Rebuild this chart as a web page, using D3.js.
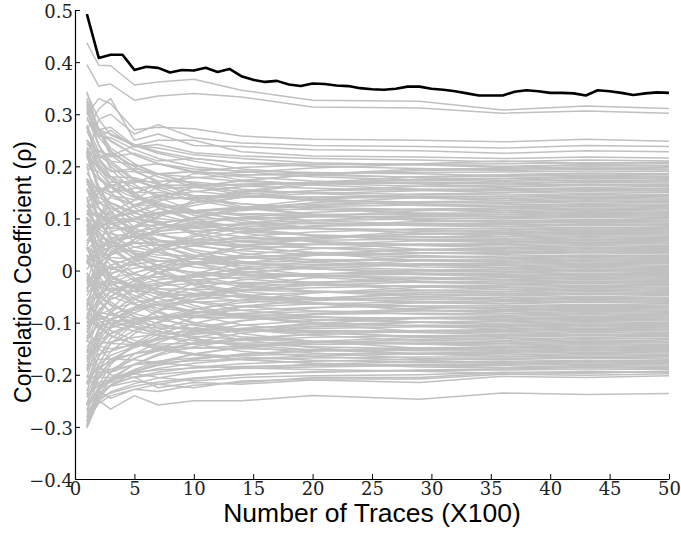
<!DOCTYPE html>
<html>
<head>
<meta charset="utf-8">
<script src="https://cdn.jsdelivr.net/npm/d3@7/dist/d3.min.js"></script>
<style>
  html, body { margin: 0; padding: 0; background: #fff; }
  svg { display: block; }
  .title { font-family: "Liberation Sans", Arial, sans-serif; fill: #000; }
</style>
</head>
<body>
<svg id="chart" width="681" height="534"></svg>
<script>
// Number of traces (in hundreds) for the correct-key curve
const traces = d3.range(1, 51);

// Correlation of the correct key guess, one value per trace count
const correctKey = [
  0.492, 0.408, 0.414, 0.414, 0.385, 0.391, 0.389, 0.380, 0.385, 0.384,
  0.389, 0.381, 0.387, 0.373, 0.366, 0.362, 0.364, 0.357, 0.354, 0.359,
  0.358, 0.355, 0.354, 0.350, 0.348, 0.347, 0.349, 0.353, 0.353, 0.349,
  0.347, 0.344, 0.340, 0.336, 0.336, 0.336, 0.343, 0.346, 0.344, 0.341,
  0.341, 0.340, 0.336, 0.346, 0.344, 0.341, 0.337, 0.340, 0.342, 0.341
];

// Trace counts at which the wrong-key curves are sampled
const wrongX = [1, 2, 3, 5, 7, 10, 14, 20, 29, 36, 43, 50];

// Wrong key guesses, correlation x 1000, upper group
const wrongUpper = [
  [437, 394, 393, 356, 362, 367, 346, 327, 325, 308, 316, 311],
  [395, 354, 358, 327, 335, 340, 333, 314, 312, 302, 306, 302],
  [300, 330, 320, 270, 275, 272, 258, 252, 250, 247, 252, 248],
  [220, 290, 300, 262, 280, 255, 245, 240, 238, 235, 240, 238],
  [270, 310, 330, 250, 262, 240, 238, 232, 230, 225, 230, 228],
  [330, 270, 220, 240, 250, 250, 228, 220, 218, 215, 218, 216]
];

// Wrong key guesses, correlation x 1000, main band (first half)
const wrongMainA = [
  [290, 256, 269, 237, 242, 226, 220, 215, 212, 209, 212, 210],
  [56, 101, 144, 136, 161, 186, 188, 197, 204, 205, 207, 206],
  [242, 230, 218, 225, 210, 215, 207, 204, 203, 200, 203, 202],
  [-22, 44, 102, 110, 132, 162, 172, 185, 195, 196, 199, 198],
  [303, 270, 262, 242, 228, 215, 206, 200, 196, 192, 195, 193],
  [130, 158, 150, 172, 170, 178, 183, 187, 188, 189, 191, 190],
  [-94, -10, 32, 84, 102, 135, 152, 169, 180, 184, 187, 186],
  [201, 210, 190, 196, 186, 190, 184, 183, 179, 181, 183, 181],
  [47, 95, 112, 135, 144, 151, 161, 170, 174, 176, 179, 177],
  [303, 258, 255, 232, 215, 199, 190, 180, 174, 171, 174, 173],
  [130, 150, 160, 148, 165, 162, 166, 168, 170, 168, 171, 170],
  [-35, 25, 75, 85, 110, 125, 141, 153, 162, 164, 166, 165],
  [251, 224, 210, 203, 185, 179, 171, 167, 162, 160, 163, 161],
  [68, 105, 98, 124, 136, 140, 147, 153, 156, 157, 159, 158],
  [324, 273, 248, 222, 205, 188, 174, 164, 156, 153, 156, 154],
  [-90, -18, 33, 54, 78, 102, 121, 136, 147, 149, 151, 150],
  [196, 190, 163, 175, 158, 160, 152, 150, 146, 145, 148, 146],
  [122, 128, 140, 126, 142, 138, 141, 141, 143, 141, 143, 142],
  [279, 228, 222, 190, 186, 167, 156, 148, 140, 138, 141, 139],
  [-35, 20, 45, 72, 90, 101, 115, 125, 132, 134, 136, 135],
  [230, 205, 180, 178, 165, 152, 143, 136, 131, 129, 132, 130],
  [67, 90, 100, 98, 112, 115, 120, 123, 126, 126, 128, 127],
  [313, 256, 228, 199, 180, 161, 146, 134, 125, 122, 125, 123],
  [-131, -56, 1, 19, 44, 69, 89, 104, 115, 118, 120, 119],
  [126, 100, 130, 112, 125, 114, 118, 117, 116, 115, 118, 116],
  [2, 40, 62, 75, 82, 92, 99, 105, 110, 111, 113, 112],
  [268, 220, 205, 172, 160, 140, 128, 118, 110, 107, 110, 108],
  [74, 95, 82, 100, 92, 98, 101, 103, 104, 103, 106, 104],
  [170, 155, 145, 125, 126, 114, 108, 104, 101, 99, 102, 100],
  [-93, -36, -8, 21, 40, 59, 74, 86, 94, 96, 98, 97],
  [343, 268, 230, 193, 168, 143, 123, 108, 96, 92, 95, 93],
  [19, 45, 60, 65, 70, 75, 80, 85, 88, 88, 90, 89],
  [205, 175, 160, 140, 125, 110, 100, 92, 86, 84, 87, 85],
  [-58, -15, 10, 26, 45, 54, 65, 74, 80, 81, 83, 82],
  [108, 110, 90, 95, 82, 84, 80, 80, 78, 77, 80, 78],
  [-156, -87, -50, -18, 5, 28, 46, 60, 71, 73, 75, 74],
  [250, 200, 175, 142, 128, 106, 92, 81, 72, 69, 72, 70],
  [16, 35, 45, 52, 55, 58, 61, 64, 65, 65, 67, 66],
  [153, 130, 120, 99, 90, 81, 74, 68, 64, 62, 65, 63],
  [-101, -50, -25, -5, 11, 27, 40, 50, 57, 58, 60, 59],
  [275, 215, 180, 143, 121, 99, 81, 68, 57, 54, 57, 55],
  [41, 60, 45, 55, 48, 52, 50, 51, 51, 50, 53, 51],
  [188, 150, 130, 104, 90, 76, 65, 56, 49, 47, 50, 48],
  [-206, -131, -93, -56, -31, -6, 14, 29, 41, 43, 45, 44],
  [100, 88, 70, 64, 58, 52, 47, 44, 40, 39, 42, 40],
  [-64, -30, -15, -4, 6, 16, 24, 30, 34, 35, 37, 36],
  [232, 180, 150, 112, 92, 72, 56, 44, 34, 31, 34, 32],
  [-171, -110, -80, -51, -31, -11, 5, 17, 26, 28, 30, 29],
  [135, 105, 90, 69, 58, 47, 38, 31, 26, 24, 27, 25],
  [-19, 0, -5, 5, 9, 13, 16, 18, 21, 20, 22, 21],
  [277, 200, 165, 121, 95, 69, 48, 33, 19, 16, 19, 17],
  [-117, -75, -55, -39, -26, -13, -3, 5, 11, 12, 14, 13],
  [40, 35, 25, 22, 19, 16, 13, 12, 10, 9, 12, 10],
  [176, 135, 105, 74, 57, 40, 26, 16, 7, 5, 8, 6],
  [-258, -180, -140, -102, -76, -50, -29, -14, 0, 1, 3, 2],
  [88, 65, 55, 34, 25, 16, 9, 3, -1, -3, 0, -2],
  [-66, -45, -35, -30, -24, -18, -13, -10, -7, -7, -5, -6],
  [220, 160, 125, 82, 59, 36, 18, 4, -8, -11, -8, -10],
  [-183, -135, -105, -81, -64, -47, -33, -23, -15, -14, -12, -13],
  [103, 70, 55, 31, 19, 7, -3, -10, -16, -18, -15, -17],
  [-41, -30, -40, -28, -29, -25, -23, -22, -21, -22, -20, -21],
  [175, 120, 95, 55, 35, 15, -1, -13, -23, -26, -23, -25],
  [-259, -190, -155, -121, -98, -75, -57, -43, -32, -30, -28, -29],
  [28, 15, 5, -8, -14, -20, -25, -28, -31, -33, -30, -32],
  [-136, -100, -95, -76, -66, -56, -48, -42, -38, -37, -35, -36],
  [230, 160, 115, 68, 41, 14, -8, -24, -38, -41, -38, -40],
  [-194, -145, -122, -104, -89, -74, -62, -53, -46, -45, -43, -44],
  [102, 60, 40, 12, -3, -18, -30, -39, -46, -49, -46, -48],
  [-101, -80, -85, -71, -66, -61, -57, -54, -52, -52, -50, -51],
  [-15, -25, -35, -39, -43, -47, -50, -53, -55, -56, -53, -55],
  [-269, -205, -175, -143, -122, -101, -84, -72, -62, -60, -58, -59],
  [127, 75, 45, 13, -6, -25, -40, -52, -62, -64, -61, -63],
  [-146, -120, -110, -98, -90, -82, -76, -71, -68, -67, -65, -66],
  [30, 5, -10, -30, -40, -50, -58, -64, -70, -71, -68, -70],
  [-254, -200, -175, -146, -128, -110, -96, -85, -77, -75, -73, -74],
  [172, 100, 60, 22, -3, -28, -48, -63, -76, -79, -76, -78],
  [-112, -90, -100, -94, -91, -88, -86, -84, -82, -83, -81, -82],
  [45, 10, -10, -33, -46, -59, -69, -77, -84, -86, -83, -85],
  [-289, -225, -195, -169, -149, -129, -113, -101, -92, -90, -88, -89],
  [-23, -40, -50, -65, -72, -79, -85, -89, -92, -94, -91, -93],
  [-217, -180, -163, -145, -133, -121, -111, -104, -99, -98, -96, -97],
  [100, 40, 10, -20, -40, -60, -76, -88, -99, -101, -98, -100],
  [-164, -140, -137, -128, -122, -116, -111, -108, -105, -105, -103, -104],
  [42, 0, -25, -48, -63, -78, -90, -99, -107, -109, -106, -108],
  [-282, -230, -206, -180, -163, -146, -132, -122, -115, -113, -111, -112],
  [-96, -105, -100, -108, -110, -112, -114, -115, -116, -117, -114, -116],
  [141, 60, 20, -15, -41, -67, -88, -103, -117, -120, -117, -119],
  [-213, -185, -175, -159, -150, -141, -134, -128, -125, -124, -122, -123],
  [-17, -50, -67, -83, -94, -105, -114, -120, -126, -128, -125, -127],
  [-280, -230, -210, -190, -175, -160, -148, -139, -132, -131, -129, -130],
  [45, -10, -40, -63, -81, -99, -113, -124, -134, -136, -133, -135],
  [-189, -170, -170, -159, -154, -149, -145, -142, -140, -140, -138, -139],
  [-62, -85, -95, -110, -118, -126, -132, -137, -141, -143, -140, -142],
  [-266, -230, -212, -194, -182, -170, -160, -153, -148, -147, -145, -146],
  [90, 20, -20, -54, -78, -102, -121, -136, -149, -151, -148, -150],
  [-124, -135, -140, -142, -145, -148, -150, -152, -154, -155, -152, -154],
  [-258, -225, -212, -198, -188, -178, -170, -164, -160, -159, -157, -158],
  [-11, -60, -80, -101, -116, -131, -143, -152, -160, -162, -159, -161],
  [-205, -190, -190, -181, -177, -173, -170, -168, -166, -166, -164, -165],
  [30, -30, -60, -90, -110, -130, -146, -158, -169, -171, -168, -170],
  [-283, -250, -233, -217, -206, -195, -186, -180, -175, -174, -172, -173],
  [-87, -110, -125, -141, -150, -159, -166, -172, -176, -178, -175, -177],
  [-241, -220, -215, -205, -199, -193, -188, -185, -182, -182, -180, -181],
  [-56, -95, -115, -134, -147, -160, -170, -178, -185, -187, -184, -186],
  [-270, -245, -235, -222, -214, -206, -200, -195, -192, -191, -189, -190]
];

// Wrong key guesses, correlation x 1000, main band (second half)
const wrongMainB = [
  [108, 150, 170, 168, 185, 190, 198, 203, 205, 210, 206, 208],
  [320, 270, 275, 240, 235, 222, 215, 207, 203, 198, 203, 200],
  [15, 80, 100, 125, 140, 160, 173, 184, 192, 194, 197, 195],
  [244, 215, 225, 200, 205, 195, 191, 188, 186, 182, 186, 184],
  [-71, 10, 50, 80, 105, 130, 150, 165, 175, 177, 181, 179],
  [340, 290, 260, 240, 225, 210, 195, 186, 178, 173, 177, 175],
  [138, 160, 150, 158, 162, 165, 164, 167, 168, 166, 170, 168],
  [313, 260, 250, 222, 205, 190, 180, 172, 166, 161, 165, 163],
  [16, 55, 90, 100, 118, 130, 140, 148, 153, 155, 158, 156],
  [232, 215, 190, 190, 172, 170, 162, 158, 154, 150, 154, 152],
  [-66, 0, 30, 60, 80, 100, 118, 130, 140, 142, 146, 144],
  [177, 150, 165, 150, 150, 144, 142, 140, 139, 135, 139, 137],
  [52, 80, 95, 100, 108, 115, 122, 127, 130, 131, 134, 132],
  [325, 270, 235, 205, 185, 165, 150, 138, 128, 123, 127, 125],
  [-39, 10, 35, 60, 75, 90, 102, 112, 118, 120, 123, 121],
  [224, 195, 180, 160, 145, 135, 128, 121, 117, 112, 116, 114],
  [-120, -55, -20, 15, 40, 65, 82, 96, 106, 108, 112, 110],
  [126, 120, 100, 115, 108, 112, 109, 108, 107, 104, 108, 106],
  [12, 40, 55, 65, 75, 82, 90, 96, 99, 101, 104, 102],
  [295, 240, 210, 175, 155, 135, 120, 107, 98, 93, 97, 95],
  [71, 85, 80, 84, 88, 87, 89, 90, 91, 90, 93, 91],
  [237, 195, 175, 145, 130, 115, 105, 96, 89, 85, 89, 87],
  [-190, -115, -75, -30, -5, 25, 47, 63, 75, 78, 82, 80],
  [166, 140, 130, 110, 100, 92, 86, 81, 78, 74, 78, 76],
  [-48, -10, 10, 25, 38, 48, 57, 64, 69, 71, 74, 72],
  [308, 240, 200, 165, 140, 115, 96, 82, 71, 66, 70, 68],
  [21, 35, 30, 45, 50, 53, 56, 58, 60, 60, 63, 61],
  [227, 180, 160, 125, 108, 91, 78, 67, 59, 55, 59, 57],
  [-137, -80, -50, -25, -3, 15, 30, 42, 50, 52, 55, 53],
  [116, 100, 90, 72, 68, 60, 55, 50, 48, 44, 48, 46],
  [-108, -65, -40, -20, -5, 12, 24, 33, 39, 41, 44, 42],
  [318, 240, 195, 150, 120, 95, 72, 55, 41, 36, 40, 38],
  [-26, -5, 5, 12, 18, 22, 27, 30, 33, 33, 36, 34],
  [157, 120, 105, 80, 68, 55, 44, 35, 29, 25, 29, 27],
  [-217, -150, -110, -72, -48, -25, -6, 9, 19, 22, 25, 23],
  [59, 50, 35, 38, 30, 28, 24, 21, 20, 17, 21, 19],
  [-85, -55, -40, -28, -18, -8, 2, 9, 13, 14, 17, 15],
  [218, 160, 125, 95, 72, 50, 33, 20, 11, 6, 10, 8],
  [-176, -125, -95, -70, -52, -34, -18, -7, 1, 3, 6, 4],
  [110, 80, 65, 45, 35, 24, 14, 7, 2, -2, 2, 0],
  [-34, -20, -28, -15, -12, -10, -8, -6, -5, -5, -2, -4],
  [172, 120, 95, 65, 48, 30, 15, 4, -5, -10, -6, -8],
  [-231, -165, -130, -100, -78, -55, -38, -25, -15, -12, -9, -11],
  [45, 30, 20, 10, 3, -3, -8, -11, -13, -17, -13, -15],
  [-159, -115, -95, -75, -60, -48, -37, -28, -22, -20, -17, -19],
  [227, 150, 110, 75, 50, 25, 5, -8, -20, -25, -21, -23],
  [-107, -85, -75, -62, -52, -44, -38, -33, -29, -28, -25, -27],
  [116, 75, 50, 25, 10, -5, -16, -25, -31, -36, -32, -34],
  [-298, -220, -180, -140, -115, -90, -70, -54, -43, -40, -36, -38],
  [-12, -25, -20, -32, -35, -36, -38, -40, -41, -44, -40, -42],
  [-216, -165, -140, -115, -100, -82, -68, -58, -50, -47, -44, -46],
  [157, 95, 60, 30, 10, -10, -27, -40, -50, -55, -51, -53],
  [-167, -135, -120, -100, -90, -80, -70, -64, -60, -58, -55, -57],
  [19, 0, -15, -28, -35, -44, -50, -55, -59, -63, -59, -61],
  [-298, -230, -195, -160, -138, -115, -97, -83, -73, -70, -66, -68],
  [98, 45, 20, -5, -22, -38, -52, -62, -69, -74, -70, -72],
  [-126, -105, -110, -95, -90, -86, -82, -79, -77, -77, -74, -76],
  [200, 120, 75, 35, 5, -25, -45, -62, -75, -82, -78, -80],
  [-237, -190, -170, -148, -133, -118, -105, -96, -90, -88, -85, -87],
  [-81, -95, -85, -92, -88, -90, -91, -90, -91, -93, -89, -91],
  [-295, -240, -210, -180, -160, -138, -120, -108, -99, -96, -93, -95],
  [18, -20, -40, -55, -67, -78, -87, -94, -99, -104, -100, -102],
  [-186, -160, -155, -140, -131, -122, -116, -111, -108, -107, -104, -106],
  [80, 20, -10, -35, -53, -72, -87, -99, -107, -112, -108, -110],
  [-244, -205, -190, -168, -154, -140, -130, -122, -117, -115, -112, -114],
  [-71, -85, -95, -100, -106, -111, -114, -117, -119, -123, -119, -121],
  [-300, -245, -220, -195, -178, -160, -146, -136, -128, -126, -123, -125],
  [98, 25, -10, -40, -62, -86, -104, -118, -128, -134, -130, -132],
  [-157, -145, -150, -143, -141, -140, -139, -138, -137, -139, -135, -137],
  [-4, -45, -65, -88, -102, -116, -127, -135, -141, -146, -142, -144],
  [-258, -225, -210, -192, -181, -170, -161, -155, -151, -149, -146, -148],
  [-62, -85, -105, -116, -125, -134, -141, -146, -150, -154, -150, -152],
  [-216, -195, -195, -180, -174, -168, -163, -160, -158, -157, -154, -156],
  [87, 10, -30, -63, -88, -113, -133, -148, -160, -165, -161, -163],
  [-258, -235, -220, -204, -195, -186, -179, -174, -170, -169, -166, -168],
  [-5, -55, -80, -107, -124, -141, -155, -165, -172, -177, -173, -175],
  [-219, -205, -205, -195, -191, -187, -184, -182, -180, -180, -177, -179],
  [-74, -105, -125, -140, -151, -162, -171, -178, -182, -186, -182, -184],
  [-288, -255, -240, -228, -218, -208, -200, -194, -191, -189, -186, -188],
  [-135, -150, -170, -171, -177, -183, -187, -190, -193, -197, -193, -195]
];

// Wrong key guesses, correlation x 1000, lower group
const wrongLower = [
  [-290, -232, -245, -228, -232, -220, -215, -205, -205, -196, -197, -193],
  [-275, -240, -222, -212, -218, -225, -212, -208, -208, -199, -201, -198],
  [-240, -215, -210, -198, -205, -212, -205, -202, -200, -195, -196, -194],
  [-150, -185, -200, -205, -225, -215, -218, -210, -215, -203, -205, -202],
  [-302, -249, -266, -240, -258, -250, -250, -240, -247, -235, -238, -236]
];

const yTicks = [-0.4, -0.3, -0.2, -0.1, 0, 0.1, 0.2, 0.3, 0.4, 0.5];
const xTicks = [0, 5, 10, 15, 20, 25, 30, 35, 40, 45, 50];

const svg = d3.select("#chart");
const x = d3.scaleLinear().domain([0, 50]).range([75, 669]);
const y = d3.scaleLinear().domain([-0.4, 0.5]).range([479, 10]);

const grayLine = d3.line()
  .x((d, i) => x(wrongX[i]))
  .y(d => y(d / 1000));

const wrong = wrongUpper.concat(wrongMainA, wrongMainB, wrongLower);
svg.append("g")
  .selectAll("path")
  .data(wrong)
  .join("path")
  .attr("d", grayLine)
  .attr("fill", "none")
  .attr("stroke", "#c0c0c0")
  .attr("stroke-width", 1.5)
  .attr("stroke-linejoin", "round");

const blackLine = d3.line()
  .x((d, i) => x(traces[i]))
  .y(d => y(d));

svg.append("path")
  .datum(correctKey)
  .attr("d", blackLine)
  .attr("fill", "none")
  .attr("stroke", "#000")
  .attr("stroke-width", 2.6)
  .attr("stroke-linejoin", "round");

// Axes: ticks point inward, no enclosing box
const tickFont = "DejaVu Serif";
const fmt = d => d === 0 ? "0" : d3.format(".1f")(d);
const xAxis = svg.append("g")
  .attr("transform", `translate(0,${y(-0.4)})`)
  .call(d3.axisBottom(x).tickValues(xTicks).tickSizeInner(-5).tickSizeOuter(0).tickPadding(3));
const yAxis = svg.append("g")
  .attr("transform", `translate(${x(0)},0)`)
  .call(d3.axisLeft(y).tickValues(yTicks).tickFormat(fmt).tickSizeInner(-5).tickSizeOuter(0).tickPadding(2));
[xAxis, yAxis].forEach(a => {
  a.attr("font-family", tickFont).attr("font-size", 18);
  a.select(".domain").attr("stroke", "#000").attr("stroke-width", 1.2);
  a.selectAll(".tick line").attr("stroke", "#000");
  a.selectAll(".tick text").attr("fill", "#222").attr("font-weight", 300);
});
yAxis.selectAll(".tick text").attr("dy", "0.4em");

svg.append("text")
  .attr("class", "title")
  .attr("x", 372).attr("y", 522)
  .attr("text-anchor", "middle")
  .attr("font-size", 26.5)
  .text("Number of Traces (X100)");

svg.append("text")
  .attr("class", "title")
  .attr("transform", "translate(31,272) rotate(-90)")
  .attr("text-anchor", "middle")
  .attr("font-size", 23)
  .text("Correlation Coefficient (ρ)");
</script>
</body>
</html>
